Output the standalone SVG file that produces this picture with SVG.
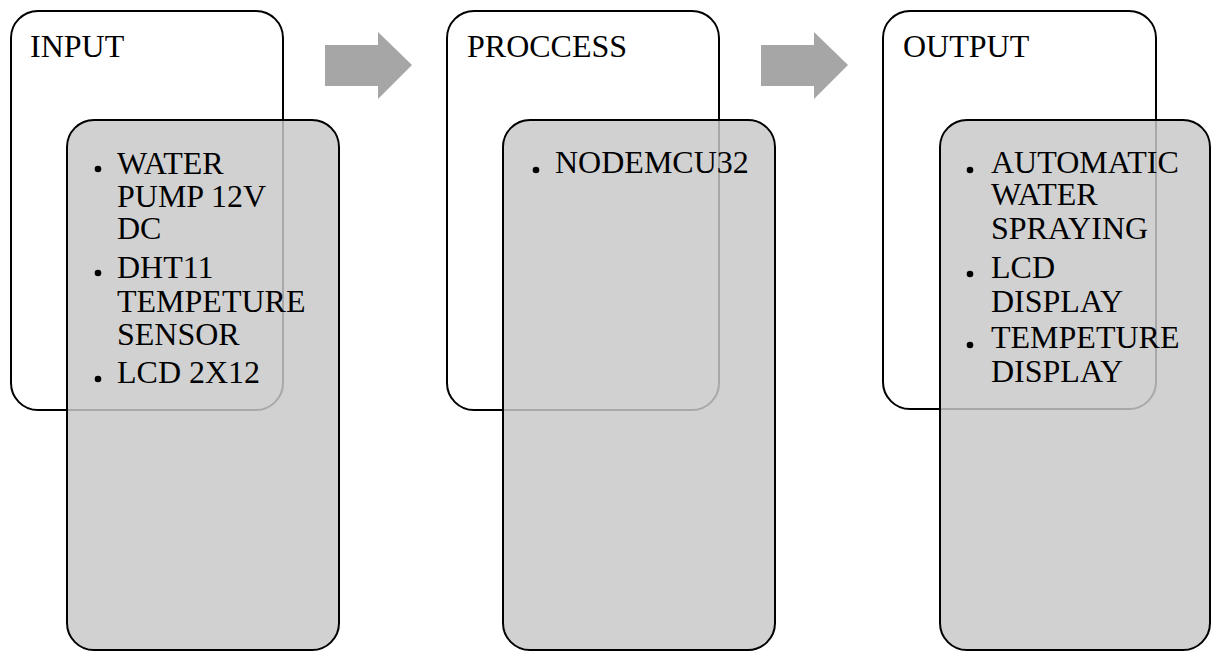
<svg xmlns="http://www.w3.org/2000/svg" width="1212" height="651" viewBox="0 0 1212 651">
<style>
.outer{fill:#ffffff;stroke:#000000;stroke-width:2}
.inner{fill:rgb(200,200,200);fill-opacity:0.84;stroke:#000000;stroke-width:2}
.t{font-family:"Liberation Serif","Times New Roman",serif;font-size:32px;fill:#000000}
.b{fill:#000000}
.arrow{fill:#a6a6a6}
</style>
<rect width="1212" height="651" fill="#ffffff"/>
<g id="input-outer"><rect class="outer" x="11" y="11" width="272" height="399" rx="27"/><text class="t" x="30" y="57">INPUT</text></g>
<g id="process-outer"><rect class="outer" x="447" y="11" width="272" height="399" rx="27"/><text class="t" x="467" y="57">PROCCESS</text></g>
<g id="output-outer"><rect class="outer" x="883" y="11" width="273" height="398" rx="27"/><text class="t" x="903" y="57">OUTPUT</text></g>
<g id="connectors">
<polygon class="arrow" points="325,45 378,45 378,32 412,65 378,99 378,86 325,86"/>
<polygon class="arrow" points="761,45 814,45 814,32 848,65 814,99 814,86 761,86"/>
</g>
<g id="input-items">
<rect class="inner" x="67" y="120" width="272" height="530" rx="27"/>
<circle class="b" cx="98" cy="169" r="3.3"/>
<circle class="b" cx="98" cy="273" r="3.3"/>
<circle class="b" cx="98" cy="379" r="3.3"/>
<text class="t"><tspan x="117" y="174">WATER</tspan><tspan x="117" y="207">PUMP 12V</tspan><tspan x="117" y="239">DC</tspan><tspan x="117" y="278">DHT11</tspan><tspan x="117" y="312">TEMPETURE</tspan><tspan x="117" y="345">SENSOR</tspan><tspan x="117" y="383">LCD 2X12</tspan></text>
</g>
<g id="process-items">
<rect class="inner" x="503" y="120" width="272" height="530" rx="27"/>
<circle class="b" cx="536" cy="170" r="3.3"/>
<text class="t" x="555" y="173">NODEMCU32</text>
</g>
<g id="output-items">
<rect class="inner" x="940" y="120" width="270" height="530" rx="27"/>
<circle class="b" cx="970" cy="170" r="3.3"/>
<circle class="b" cx="970" cy="274" r="3.3"/>
<circle class="b" cx="970" cy="345" r="3.3"/>
<text class="t"><tspan x="991" y="173">AUTOMATIC</tspan><tspan x="991" y="205">WATER</tspan><tspan x="991" y="239">SPRAYING</tspan><tspan x="991" y="278">LCD</tspan><tspan x="991" y="312">DISPLAY</tspan><tspan x="991" y="348">TEMPETURE</tspan><tspan x="991" y="382">DISPLAY</tspan></text>
</g>
</svg>
